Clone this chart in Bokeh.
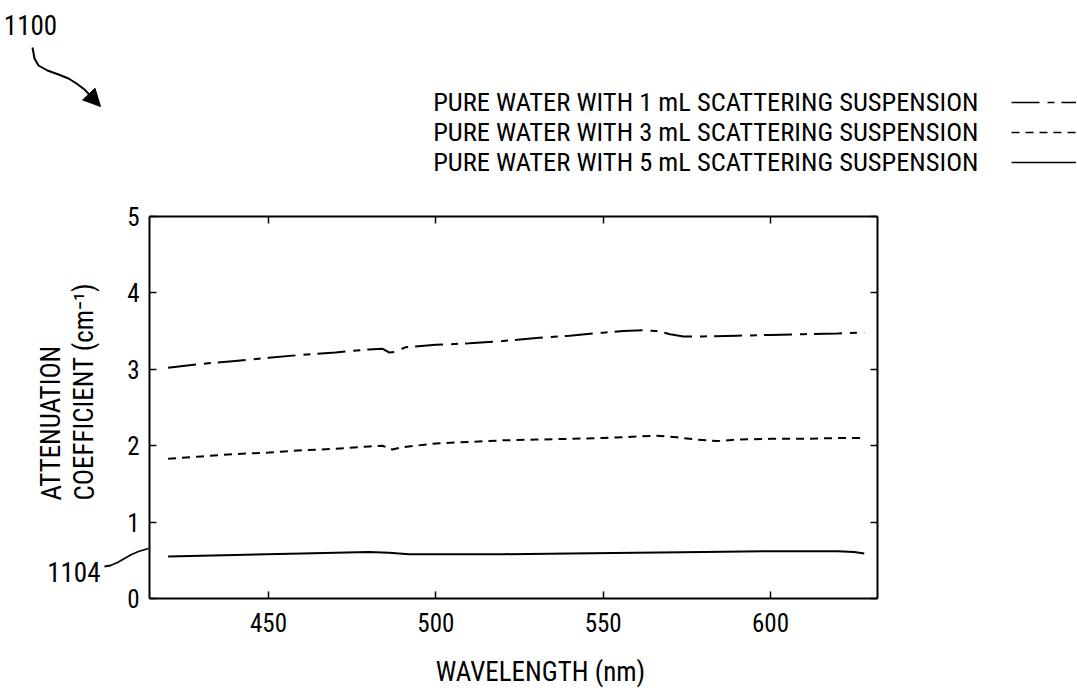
from bokeh.plotting import figure
from bokeh.models import LinearAxis, Label, Arrow, NormalHead, FixedTicker, Range1d
from bokeh.embed import file_html
from bokeh.resources import INLINE

# ---------------- data ----------------
wl_1ml = [420, 430, 440, 450, 460, 470, 480, 484, 486, 488, 491, 500, 510, 520, 530, 540,
          550, 556, 562, 566, 570, 574, 580, 590, 600, 610, 620, 628]
att_1ml = [3.02, 3.07, 3.11, 3.15, 3.19, 3.22, 3.26, 3.27, 3.22, 3.23, 3.29, 3.32, 3.34, 3.37, 3.41, 3.44,
           3.48, 3.50, 3.51, 3.50, 3.46, 3.43, 3.43, 3.44, 3.45, 3.46, 3.47, 3.48]

wl_3ml = [420, 430, 440, 450, 460, 470, 480, 484, 487, 490, 500, 510, 520, 530, 540, 550,
          560, 566, 572, 578, 584, 590, 600, 610, 620, 628]
att_3ml = [1.83, 1.86, 1.89, 1.91, 1.94, 1.96, 1.99, 2.00, 1.95, 1.98, 2.03, 2.05, 2.07, 2.08, 2.09, 2.10,
           2.12, 2.13, 2.11, 2.08, 2.06, 2.08, 2.09, 2.09, 2.10, 2.10]

wl_5ml = [420, 440, 460, 480, 486, 492, 500, 520, 540, 560, 580, 600, 620, 625, 628]
att_5ml = [0.55, 0.57, 0.59, 0.61, 0.60, 0.58, 0.58, 0.58, 0.59, 0.60, 0.61, 0.62, 0.62, 0.61, 0.59]

x_ticks = [450, 500, 550, 600]
y_ticks = [0, 1, 2, 3, 4, 5]
x_lim = (414.44, 631.97)
y_lim = (0, 5)

legend_labels = ["PURE WATER WITH 1 mL SCATTERING SUSPENSION",
                 "PURE WATER WITH 3 mL SCATTERING SUSPENSION",
                 "PURE WATER WITH 5 mL SCATTERING SUSPENSION"]
legend_dash = ["28 8 7 7", "8 6", "solid"]
x_title = "WAVELENGTH (nm)"
y_title_1 = "ATTENUATION"
y_title_2 = "COEFFICIENT (cm\u207b\u00b9)"
fig_ref = "1100"
curve_ref = "1104"

# ---------------- layout ----------------
FONT = "Roboto Condensed"
W, H = 1076, 690
# where the plotting box sits on the canvas (px)
BL, BR, BT, BB = 149, 877, 216, 598
kx = (BR - BL) / (x_lim[1] - x_lim[0])
ky = (BB - BT) / (y_lim[1] - y_lim[0])

def dx(px):
    return x_lim[0] + (px - BL) / kx

def dy(py):
    return y_lim[1] - (py - BT) / ky

p = figure(width=W, height=H, title=None,
           x_range=Range1d(dx(0), dx(W)), y_range=Range1d(dy(H), dy(0)),
           x_axis_location=None, y_axis_location=None,
           output_backend="svg", toolbar_location=None,
           min_border=0, min_border_left=0, min_border_right=0,
           min_border_top=0, min_border_bottom=0)
p.grid.visible = False
p.outline_line_color = None
p.background_fill_color = "white"
p.border_fill_color = "white"

def make_axis(ticks, loc, bounds, show_labels, standoff=10):
    ax = LinearAxis(fixed_location=loc, bounds=bounds)
    ax.ticker = FixedTicker(ticks=ticks)
    ax.axis_line_color = "black"
    ax.axis_line_width = 2
    ax.major_tick_line_color = "black"
    ax.major_tick_line_width = 1.5
    ax.major_tick_in = 7
    ax.major_tick_out = 0
    ax.minor_tick_line_color = None
    ax.major_label_text_font = FONT
    ax.major_label_text_font_size = "25px"
    ax.major_label_text_color = "black" if show_labels else None
    ax.major_label_standoff = standoff
    return ax

p.add_layout(make_axis(x_ticks, y_lim[0], x_lim, True, 14), "below")
p.add_layout(make_axis(x_ticks, y_lim[1], x_lim, False), "above")
p.add_layout(make_axis(y_ticks, x_lim[0], y_lim, True, 10), "left")
p.add_layout(make_axis(y_ticks, x_lim[1], y_lim, False), "right")

# ---------------- series ----------------
p.line(wl_1ml, att_1ml, line_color="black", line_width=2, line_dash=legend_dash[0])
p.line(wl_3ml, att_3ml, line_color="black", line_width=2, line_dash=legend_dash[1])
p.line(wl_5ml, att_5ml, line_color="black", line_width=2)

# ---------------- texts ----------------
def label(px, py, text, size, align="left", baseline="middle", angle=0.0):
    p.add_layout(Label(x=dx(px), y=dy(py), text=text, text_font=FONT,
                       text_font_size=size, text_align=align, text_baseline=baseline,
                       text_color="black", angle=angle))

label(540, 671, x_title, "27px", align="center")
label(51, 500, y_title_1, "27px", angle=1.5708)
label(84, 500, y_title_2, "27px", angle=1.5708)
label(30, 24, fig_ref, "27px", align="center")
label(100, 571, curve_ref, "27px", align="right")

legend_y = [101, 131, 161]
for yy, txt, dash in zip(legend_y, legend_labels, legend_dash):
    label(978, yy, txt, "26.5px", align="right")
    p.line([dx(1011), dx(W)], [dy(yy + 1), dy(yy + 1)], line_color="black", line_width=1.6,
           line_dash=dash)

# reference-number leaders
arrow_pts = [(32, 47), (34, 58), (38, 65), (47, 70), (58, 74), (68, 78), (76, 83), (84, 89)]
p.line([dx(a) for a, b in arrow_pts], [dy(b) for a, b in arrow_pts], line_color="black", line_width=2)
p.add_layout(Arrow(x_start=dx(84), y_start=dy(89), x_end=dx(100), y_end=dy(106),
                   end=NormalHead(size=17, fill_color="black", line_color="black"),
                   line_color="black", line_width=2))
lead_pts = [(104, 566), (110, 565), (117, 562), (124, 558), (131, 554), (138, 551), (148, 548)]
p.line([dx(a) for a, b in lead_pts], [dy(b) for a, b in lead_pts], line_color="black", line_width=1.8)

open("out.html", "w").write(file_html(p, INLINE))
